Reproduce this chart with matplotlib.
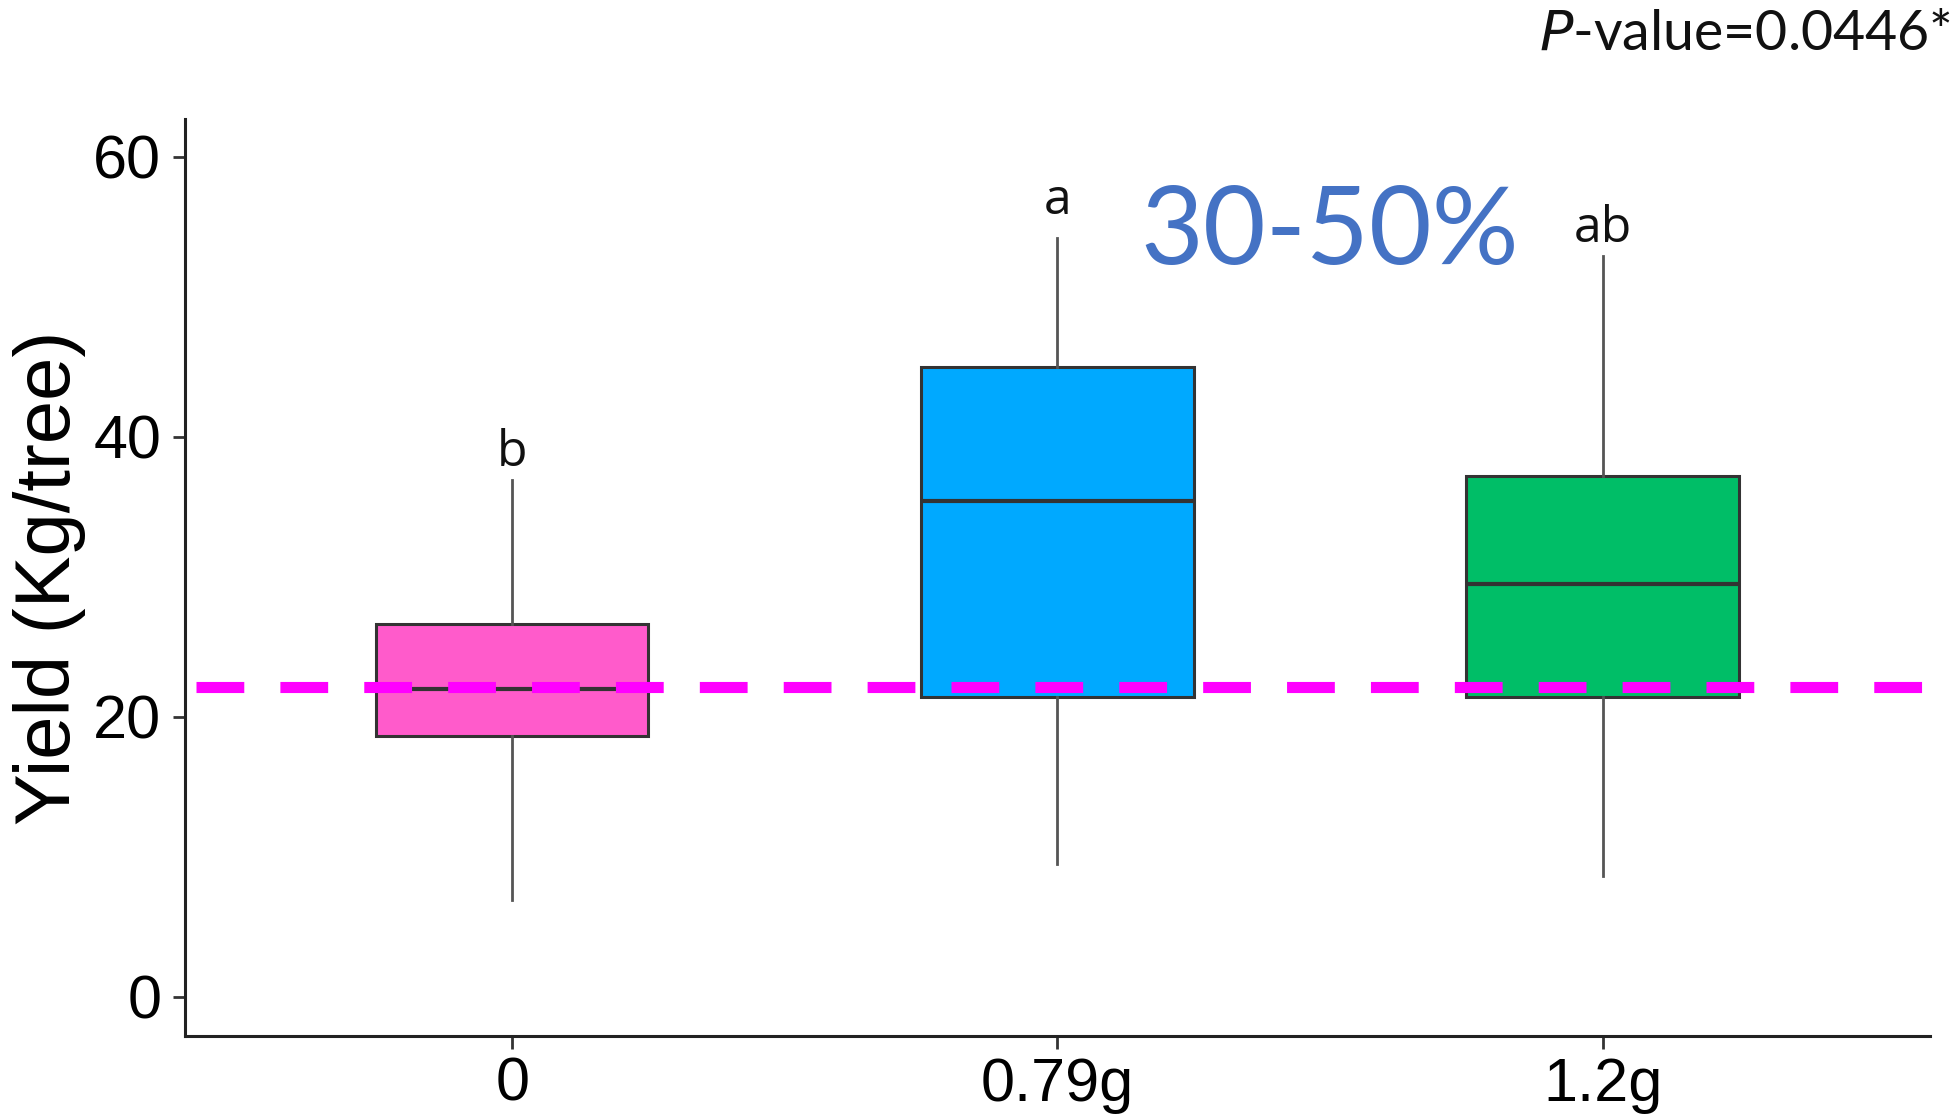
import matplotlib
matplotlib.use("Agg")
import matplotlib.pyplot as plt

# yield per tree, summary stats per dose
doses = ["0", "0.79g", "1.2g"]
whisker_low = [6.9, 9.5, 8.6]
q1 = [18.6, 21.4, 21.4]
median = [22.0, 35.4, 29.5]
q3 = [26.6, 45.0, 37.2]
whisker_high = [36.9, 54.2, 52.9]
box_colors = ["#FF5BCB", "#00A9FF", "#00BE67"]

# significance letters and where they sit
letters = ["b", "a", "ab"]
letter_y = [38.8, 56.8, 54.8]

control_level = 22.1
p_label = "$\\it{P}$-value=0.0446*"
gain_label = "30-50%"

fig = plt.figure(figsize=(19.59, 11.18), dpi=100)
ax = fig.add_axes([0.0944, 0.0733, 0.8908, 0.8205])

stats = []
for i in range(len(doses)):
    stats.append({"whislo": whisker_low[i], "q1": q1[i], "med": median[i],
                  "q3": q3[i], "whishi": whisker_high[i], "label": doses[i]})

bp = ax.bxp(stats, positions=range(len(doses)), widths=0.5, patch_artist=True,
            showcaps=False, showfliers=False,
            boxprops=dict(edgecolor="#333333", linewidth=2.2),
            medianprops=dict(color="#333333", linewidth=3),
            whiskerprops=dict(color="#555555", linewidth=2))
for patch, c in zip(bp["boxes"], box_colors):
    patch.set_facecolor(c)

# control median reference across all doses
ax.plot([-0.58, 2.59], [control_level, control_level], color="#FF00FF",
        linewidth=8, dashes=(4.3, 3.25), solid_capstyle="butt", zorder=5)

for i, (lab, y) in enumerate(zip(letters, letter_y)):
    ax.text(i, y, lab, ha="center", va="center", fontsize=36,
            family="Open Sans", color="#111111")

ax.text(1.5, 54.5, gain_label, ha="center", va="center", fontsize=78,
        family="Lato", color="#4472C4")

fig.text(0.996, 1 - 50 / 1118, p_label, ha="right", va="baseline", fontsize=40,
         family="Lato", color="#111111")

ax.set_xlim(-0.6, 2.6)
ax.set_ylim(-2.8, 62.7)
ax.set_yticks([0, 20, 40, 60])
ax.set_xticks(range(len(doses)))
ax.set_xticklabels(doses)
ax.set_ylabel("Yield (Kg/tree)", fontsize=56, family="Liberation Sans", labelpad=5)
ax.tick_params(labelsize=44, length=9, width=2, color="#333333")
ax.tick_params(axis="x", pad=6)
ax.tick_params(axis="y", pad=8)
for lab in ax.get_xticklabels() + ax.get_yticklabels():
    lab.set_family("Liberation Sans")

for s in ["top", "right"]:
    ax.spines[s].set_visible(False)
for s in ["left", "bottom"]:
    ax.spines[s].set_linewidth(2.2)
    ax.spines[s].set_color("#222222")

fig.savefig("out.png", dpi=100)
